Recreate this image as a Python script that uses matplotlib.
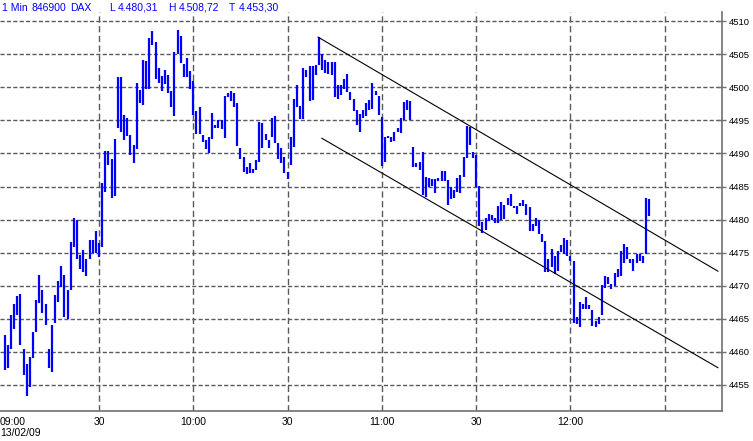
import matplotlib
matplotlib.use('Agg')
import matplotlib.pyplot as plt
import matplotlib.transforms as mtransforms
import numpy as np

plt.rcParams['font.family'] = ['Liberation Sans', 'DejaVu Sans']

# 1-minute bars, 09:00 .. 12:25 (minute index from 09:00)
highs = [
    4462.5, 4461.0, 4465.6, 4467.3, 4468.4, 4468.8, 4460.5, 4458.2, 4459.2, 4463.0,
    4467.8, 4471.6, 4469.3, 4467.2, 4460.5, 4464.1, 4468.6, 4470.7, 4473.0, 4471.6,
    4469.3, 4476.6, 4480.2, 4480.0, 4474.6, 4475.4, 4474.1, 4476.9, 4476.9, 4478.3,
    4476.4, 4485.5, 4490.4, 4490.4, 4489.2, 4492.2, 4501.5, 4501.5, 4495.8, 4495.3,
    4492.8, 4491.3, 4500.7, 4499.6, 4504.1, 4504.0, 4507.5, 4508.5, 4506.9, 4503.0,
    4501.7, 4502.7, 4501.9, 4499.4, 4505.3, 4508.7, 4507.8, 4503.6, 4504.4, 4502.5,
    4500.9, 4496.5, 4497.0, 4492.8, 4492.0, 4492.5, 4496.1, 4494.3, 4495.1, 4495.1,
    4498.7, 4499.2, 4499.4, 4499.2, 4497.6, 4490.9, 4489.5, 4488.0, 4488.5, 4487.6,
    4489.0, 4494.8, 4494.6, 4493.0, 4492.0, 4495.4, 4495.7, 4491.6, 4490.8, 4489.5,
    4487.2, 4492.5, 4498.2, 4500.4, 4497.2, 4502.9, 4502.7, 4503.2, 4503.2, 4503.4,
    4507.6, 4505.0, 4504.1, 4503.9, 4503.8, 4503.8, 4500.4, 4500.4, 4501.2, 4502.0,
    4499.3, 4498.3, 4496.6, 4495.9, 4496.6, 4497.7, 4498.1, 4500.6, 4499.5, 4498.7,
    4495.5, 4492.5, 4492.6, 4492.5, 4493.3, 4493.8, 4495.3, 4497.8, 4498.1, 4498.0,
    4491.0, 4488.5, 4488.7, 4490.2, 4486.5, 4486.3, 4486.2, 4486.1, 4486.3, 4487.4,
    4487.4, 4486.0, 4485.0, 4484.5, 4486.3, 4486.8, 4489.5, 4494.1, 4494.0, 4490.3,
    4489.8, 4485.1, 4479.7, 4480.2, 4480.9, 4480.7, 4480.2, 4482.1, 4482.7, 4482.2,
    4483.2, 4483.9, 4482.1, 4482.1, 4482.5, 4483.0, 4482.3, 4481.9, 4479.4, 4480.3,
    4480.0, 4477.8, 4476.8, 4474.0, 4475.6, 4474.5, 4475.3, 4476.1, 4477.2, 4476.9,
    4474.5, 4473.7, 4465.2, 4467.5, 4467.2, 4468.3, 4467.1, 4466.3, 4464.7, 4465.2,
    4470.1, 4471.5, 4471.3, 4470.2, 4471.9, 4472.5, 4475.3, 4476.3, 4475.8, 4474.0,
    4474.0, 4474.8, 4474.8, 4474.5, 4483.3, 4483.1]

lows = [
    4457.3, 4457.5, 4460.4, 4463.5, 4465.6, 4461.0, 4456.5, 4453.3, 4454.7, 4459.0,
    4463.0, 4467.4, 4465.8, 4464.1, 4457.5, 4457.0, 4464.3, 4467.6, 4469.8, 4465.2,
    4464.9, 4469.4, 4475.9, 4474.1, 4472.5, 4472.0, 4471.4, 4474.0, 4474.9, 4474.9,
    4474.4, 4475.9, 4484.2, 4488.2, 4483.3, 4483.5, 4493.9, 4493.3, 4492.1, 4492.6,
    4489.7, 4488.6, 4490.7, 4497.7, 4497.4, 4499.8, 4499.7, 4506.4, 4501.2, 4500.7,
    4499.4, 4500.5, 4499.2, 4497.1, 4495.7, 4505.0, 4503.7, 4501.6, 4501.6, 4499.8,
    4495.8, 4493.0, 4493.0, 4491.8, 4490.7, 4490.0, 4492.2, 4493.9, 4493.8, 4493.7,
    4492.3, 4498.5, 4498.0, 4497.0, 4491.1, 4489.2, 4487.2, 4486.9, 4487.1, 4487.0,
    4487.5, 4488.7, 4490.8, 4492.0, 4490.9, 4492.5, 4491.6, 4489.1, 4488.6, 4487.0,
    4486.2, 4488.2, 4491.0, 4497.1, 4495.2, 4495.2, 4501.5, 4498.0, 4498.1, 4501.9,
    4503.4, 4502.6, 4502.1, 4502.0, 4501.8, 4498.6, 4498.3, 4498.8, 4499.8, 4499.3,
    4498.1, 4496.4, 4494.3, 4493.3, 4495.3, 4495.6, 4496.6, 4496.8, 4498.8, 4495.8,
    4488.1, 4488.7, 4492.3, 4491.8, 4491.9, 4493.3, 4493.1, 4495.1, 4496.6, 4495.1,
    4488.0, 4488.0, 4487.5, 4483.7, 4483.4, 4485.0, 4485.1, 4484.0, 4485.8, 4485.9,
    4485.9, 4482.2, 4483.1, 4483.2, 4484.2, 4484.0, 4486.5, 4489.3, 4491.3, 4489.3,
    4485.0, 4479.0, 4478.0, 4478.5, 4479.8, 4480.0, 4479.5, 4479.5, 4480.0, 4480.1,
    4482.2, 4482.1, 4481.7, 4480.8, 4482.0, 4482.0, 4480.7, 4478.3, 4478.2, 4479.1,
    4477.8, 4476.6, 4472.0, 4472.0, 4472.8, 4471.8, 4472.3, 4475.1, 4474.8, 4474.5,
    4473.8, 4464.4, 4464.2, 4463.7, 4466.5, 4466.5, 4466.5, 4463.9, 4463.8, 4464.2,
    4465.5, 4469.7, 4470.3, 4469.5, 4470.0, 4471.3, 4471.5, 4473.4, 4474.0, 4473.4,
    4472.3, 4473.5, 4473.8, 4473.5, 4474.8, 4480.5]

minutes = np.arange(len(highs))

# channel lines (minute, price)
upper_x = [99.7, 226.9]
upper_y = [4507.6, 4472.2]
lower_x = [100.9, 226.9]
lower_y = [4492.3, 4457.6]

x_ticks = [0, 30, 60, 90, 120, 150, 180, 210]
x_labels = ['09:00', '30', '10:00', '30', '11:00', '30', '12:00', '']
y_ticks = [4455, 4460, 4465, 4470, 4475, 4480, 4485, 4490, 4495, 4500, 4505, 4510]

fig = plt.figure(figsize=(7.53, 4.41), dpi=100)
ax = fig.add_axes([0, 30 / 441, 722 / 753, 399 / 441])

grid_col = '#5a5a5a'
for t in x_ticks[1:]:
    ax.axvline(t, color=grid_col, lw=1.0, linestyle=(0, (4.5, 2.5)), zorder=1)
for t in y_ticks:
    ax.axhline(t, color=grid_col, lw=1.0, linestyle=(0, (3, 1.6)), zorder=1)

ax.vlines(minutes, lows, highs, color='#0000ff', linewidth=1.6, zorder=3)

ax.plot(upper_x, upper_y, color='black', lw=0.8, zorder=4)
ax.plot(lower_x, lower_y, color='black', lw=0.8, zorder=4)

ax.set_xlim(-1.5, 228.2)
ax.set_ylim(4451.05, 4511.4)

ax.set_xticks(x_ticks)
ax.set_xticklabels(x_labels, fontsize=7.5)
ax.tick_params(axis='x', length=0, pad=4)
lbl0 = ax.get_xticklabels()[0]
lbl0.set_ha('left')
lbl0.set_transform(lbl0.get_transform() + mtransforms.ScaledTranslation(-0.05, 0, fig.dpi_scale_trans))

ax.yaxis.tick_right()
ax.set_yticks(y_ticks)
ax.set_yticklabels([str(t) for t in y_ticks], fontsize=6.8)
ax.tick_params(axis='y', direction='inout', length=6, width=1, color='#707070', pad=2)

for side in ['top', 'left']:
    ax.spines[side].set_visible(False)
ax.spines['right'].set_color('#707070')
ax.spines['bottom'].set_color('#707070')
ax.spines['right'].set_linewidth(1.2)
ax.spines['bottom'].set_linewidth(1.2)

fig.text(0.0, 8 / 441, '13/02/09', fontsize=7.5, ha='left', va='center')

# header line
header = [(2, '1 Min'), (32, '846900'), (70, 'DAX'), (109, 'L'), (118, '4.480,31'),
          (168, 'H'), (179, '4.508,72'), (229, 'T'), (239, '4.453,30')]
for px, s in header:
    fig.text(px / 753, 1 - 8 / 441, s, fontsize=7.5, color='#0000ff', ha='left', va='center')

fig.savefig('out.png', dpi=100)
